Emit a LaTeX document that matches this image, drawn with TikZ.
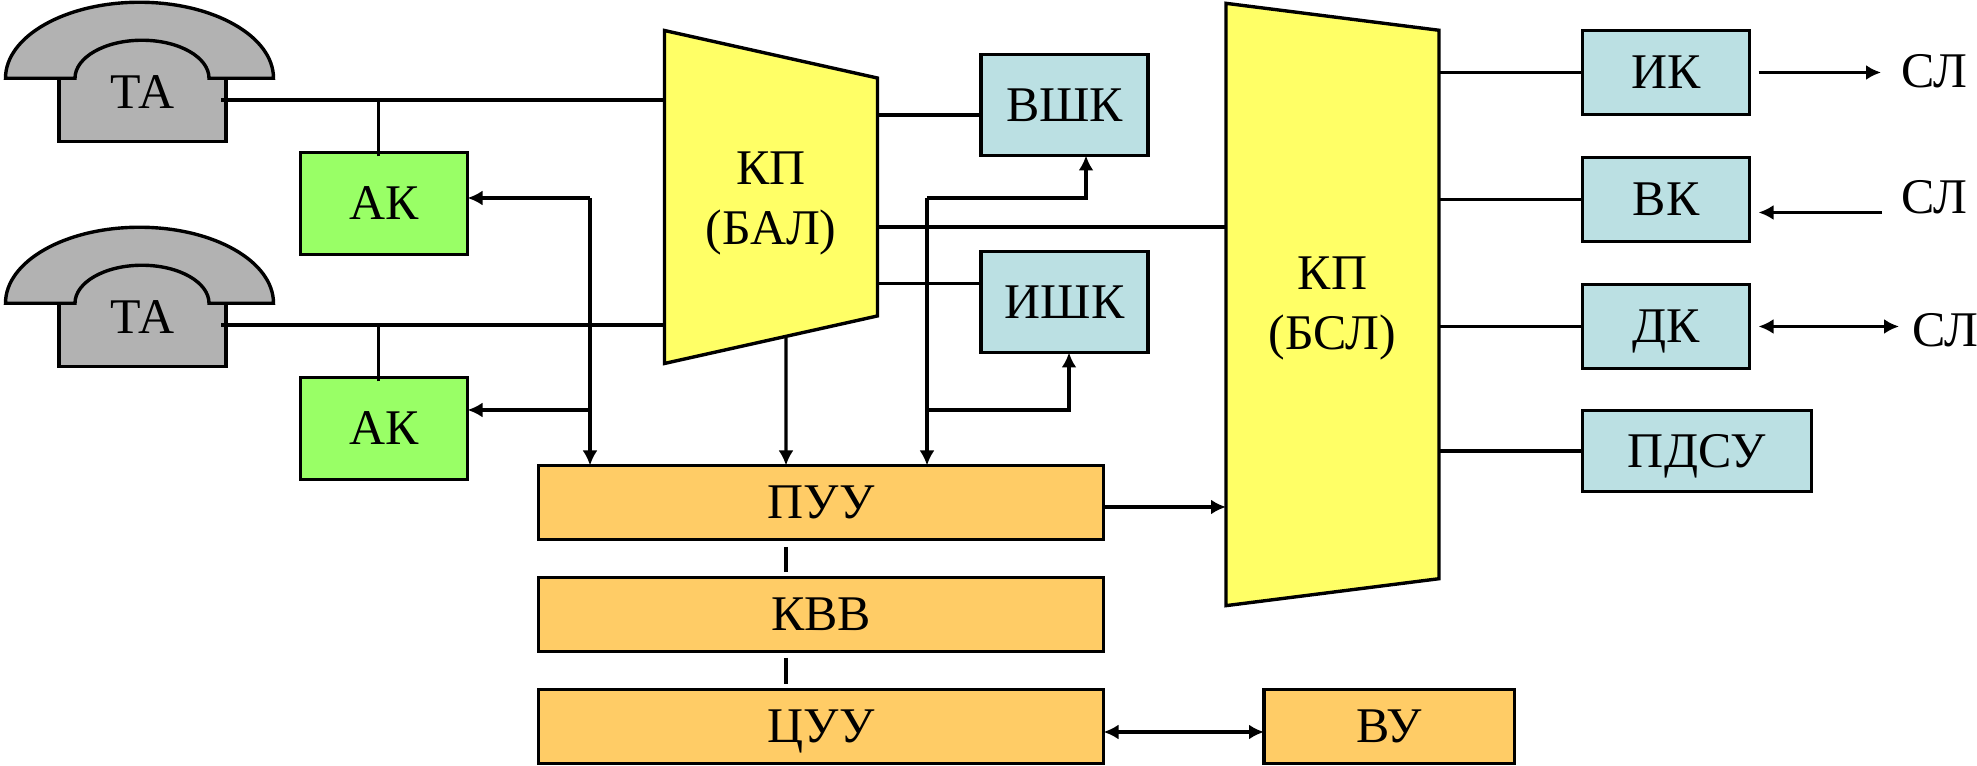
\documentclass[tikz,border=0pt]{standalone}
\usepackage{fontspec}
\setmainfont{Liberation Serif}
\usepackage{xcolor}
\usetikzlibrary{arrows.meta,positioning,calc,shapes.geometric}
\definecolor{PhoneGray}{RGB}{178,178,178}
\definecolor{SoftGreen}{RGB}{153,255,102}
\definecolor{SoftYellow}{RGB}{255,255,102}
\definecolor{SoftBlue}{RGB}{187,224,227}
\definecolor{SoftOrange}{RGB}{255,204,102}
\begin{document}
\begin{tikzpicture}[line width=0.034cm, every node/.style={font=\fontsize{14.2}{17}\selectfont, outer sep=0pt, inner sep=0pt},
  capbox/.style={draw, text height=0.33cm, text depth=0cm},
  akbox/.style={capbox, fill=SoftGreen, minimum width=1.67cm, minimum height=1.02cm},
  bluebox/.style={capbox, fill=SoftBlue, minimum width=1.67cm, minimum height=1.01cm},
  linebox/.style={capbox, fill=SoftBlue, minimum width=1.67cm, minimum height=0.84cm},
  ctrlbox/.style={capbox, fill=SoftOrange, minimum width=5.65cm, minimum height=0.74cm},
  kpbox/.style={draw, fill=SoftYellow, trapezium, trapezium stretches=true, shape border rotate=270, align=center},
  phonebody/.style={fill=PhoneGray, minimum width=1.67cm, minimum height=0.635cm},
  lbl/.style={text height=0.33cm, text depth=0cm},
  conn/.style={-{Latex[length=0.15cm,width=0.15cm]}},
  connboth/.style={{Latex[length=0.15cm,width=0.15cm]}-{Latex[length=0.15cm,width=0.15cm]}},
  handset/.pic={
    \fill[PhoneGray] (0.665,0) arc[start angle=0, end angle=180, x radius=0.67, y radius=0.38] -- cycle;
    \draw (-0.835,0) -- (-0.835,-0.635) -- (0.835,-0.635) -- (0.835,0);
    \draw[fill=PhoneGray] (-1.37,0) arc[start angle=180, end angle=0, x radius=1.34, y radius=0.76] -- (0.665,0) arc[start angle=0, end angle=180, x radius=0.67, y radius=0.38] -- cycle;
  }]
\useasboundingbox (0,0) rectangle (19.77,-7.66);

\node[phonebody] (ta1) at (1.425,-1.1) {};
\node[phonebody, below=1.615cm of ta1] (ta2) {};
\pic at (ta1.north) {handset};
\pic at (ta2.north) {handset};
\node[lbl, above=-0.3cm of ta1] (ta1text) {ТА};
\node[lbl, above=-0.3cm of ta2] (ta2text) {ТА};

\node[akbox] (ak1) at (3.84,-2.035) {АК};
\node[akbox, below=1.23cm of ak1] (ak2) {АК};

\node[kpbox, trapezium left angle=80.03, trapezium right angle=80.03, minimum width=3.34cm, minimum height=2.13cm] (bal) at (7.71,-1.97) {\rule{0pt}{0.45cm}КП\\(БАЛ)};
\node[kpbox, trapezium left angle=87.54, trapezium right angle=87.54, minimum width=6.03cm, minimum height=2.13cm] (bsl) at (13.325,-3.045) {\rule{0pt}{0.41cm}КП\\(БСЛ)};

\node[bluebox] (vshk) at (10.645,-1.05) {ВШК};
\node[bluebox, below=0.96cm of vshk] (ishk) {ИШК};

\node[linebox] (ik) at (16.66,-0.725) {ИК};
\node[linebox, below=0.43cm of ik] (vk) {ВК};
\node[linebox, below=0.43cm of vk] (dk) {ДК};
\node[linebox, minimum width=2.29cm, minimum height=0.81cm, below right=0.42cm and 0cm of dk.south west] (pdsu) {ПДСУ};

\node[ctrlbox] (puu) at (8.21,-5.025) {ПУУ};
\node[ctrlbox, below=0.38cm of puu] (kvv) {КВВ};
\node[ctrlbox, below=0.38cm of kvv] (cuu) {ЦУУ};
\node[capbox, fill=SoftOrange, minimum width=2.505cm, minimum height=0.74cm, right=1.605cm of cuu] (vu) {ВУ};

\node[lbl] (sl1) at (19.34,-0.71) {СЛ};
\node[lbl] (sl2) at (19.34,-1.97) {СЛ};
\node[lbl] (sl3) at (19.45,-3.3) {СЛ};

\coordinate (ta1out) at ([shift={(-0.05,0.1)}]ta1.east);
\coordinate (ta2out) at ([shift={(-0.05,0.1)}]ta2.east);
\coordinate (ak1tap) at ([shift={(-0.055,-0.04)}]ak1.north);
\coordinate (ak2tap) at ([shift={(-0.055,-0.04)}]ak2.north);
\coordinate (ak1in) at ([yshift=0.055cm]ak1.east);
\coordinate (ak2in) at ([yshift=0.185cm]ak2.east);
\coordinate (puuin1) at ([xshift=-2.31cm]puu.north);
\coordinate (puuin2) at ([xshift=-0.35cm]puu.north);
\coordinate (puuin3) at ([xshift=1.06cm]puu.north);
\coordinate (vshkin) at ([xshift=0.215cm]vshk.south);
\coordinate (ishkin) at ([xshift=0.045cm]ishk.south);
\coordinate (vshkout) at ([yshift=-0.1cm]vshk.west);
\coordinate (ishkout) at ([yshift=0.185cm]ishk.west);
\coordinate (balmid) at ([yshift=-0.3cm]bal.east);
\coordinate (puuout) at ([yshift=-0.045cm]puu.east);
\coordinate (cuuout) at ([yshift=-0.055cm]cuu.east);
\coordinate (ikout) at ([xshift=0.09cm]ik.east);
\coordinate (vkin) at ([shift={(0.09,-0.13)}]vk.east);
\coordinate (dkin) at ([xshift=0.09cm]dk.east);
\coordinate (sl1in) at ([xshift=-0.2cm]sl1.west);
\coordinate (sl2out) at ([xshift=-0.19cm]sl2.west);
\coordinate (sl3in) at ([xshift=-0.13cm]sl3.west);

\draw (ta1out) -- (ta1out -| bal.west);
\draw (ta2out) -- (ta2out -| bal.west);
\draw (ak1tap) -- (ak1tap |- ta1out);
\draw (ak2tap) -- (ak2tap |- ta2out);

\draw (vshkout) -- (vshkout -| bal.east);
\draw (ishkout) -- (ishkout -| bal.east);
\draw (balmid) -- (balmid -| bsl.west);

\draw[conn] (puuin1 |- ak1in) -- (ak1in);
\draw[conn] (puuin1 |- ak2in) -- (ak2in);
\draw[conn] (puuin1 |- ak1in) -- (puuin1);
\draw[conn] ([shift={(0.15,-1.41)}]bal.center) -- (puuin2);
\draw[conn] (puuin3 |- ak1in) -- (puuin3);
\draw[conn] (puuin3 |- ak1in) -| (vshkin);
\draw[conn] (puuin3 |- ak2in) -| (ishkin);

\draw[conn] (puuout) -- (puuout -| bsl.west);
\draw[connboth] (cuuout) -- (cuuout -| vu.west);
\draw ([shift={(-0.35,-0.075)}]puu.south) -- ([shift={(-0.35,0.055)}]kvv.north);
\draw ([shift={(-0.35,-0.065)}]kvv.south) -- ([shift={(-0.35,0.055)}]cuu.north);

\draw (ik.west) -- (ik.west -| bsl.east);
\draw (vk.west) -- (vk.west -| bsl.east);
\draw (dk.west) -- (dk.west -| bsl.east);
\draw (pdsu.west) -- (pdsu.west -| bsl.east);

\draw[conn] (ikout) -- (ikout -| sl1in);
\draw[conn] (vkin -| sl2out) -- (vkin);
\draw[connboth] (dkin) -- (dkin -| sl3in);
\end{tikzpicture}
\end{document}
